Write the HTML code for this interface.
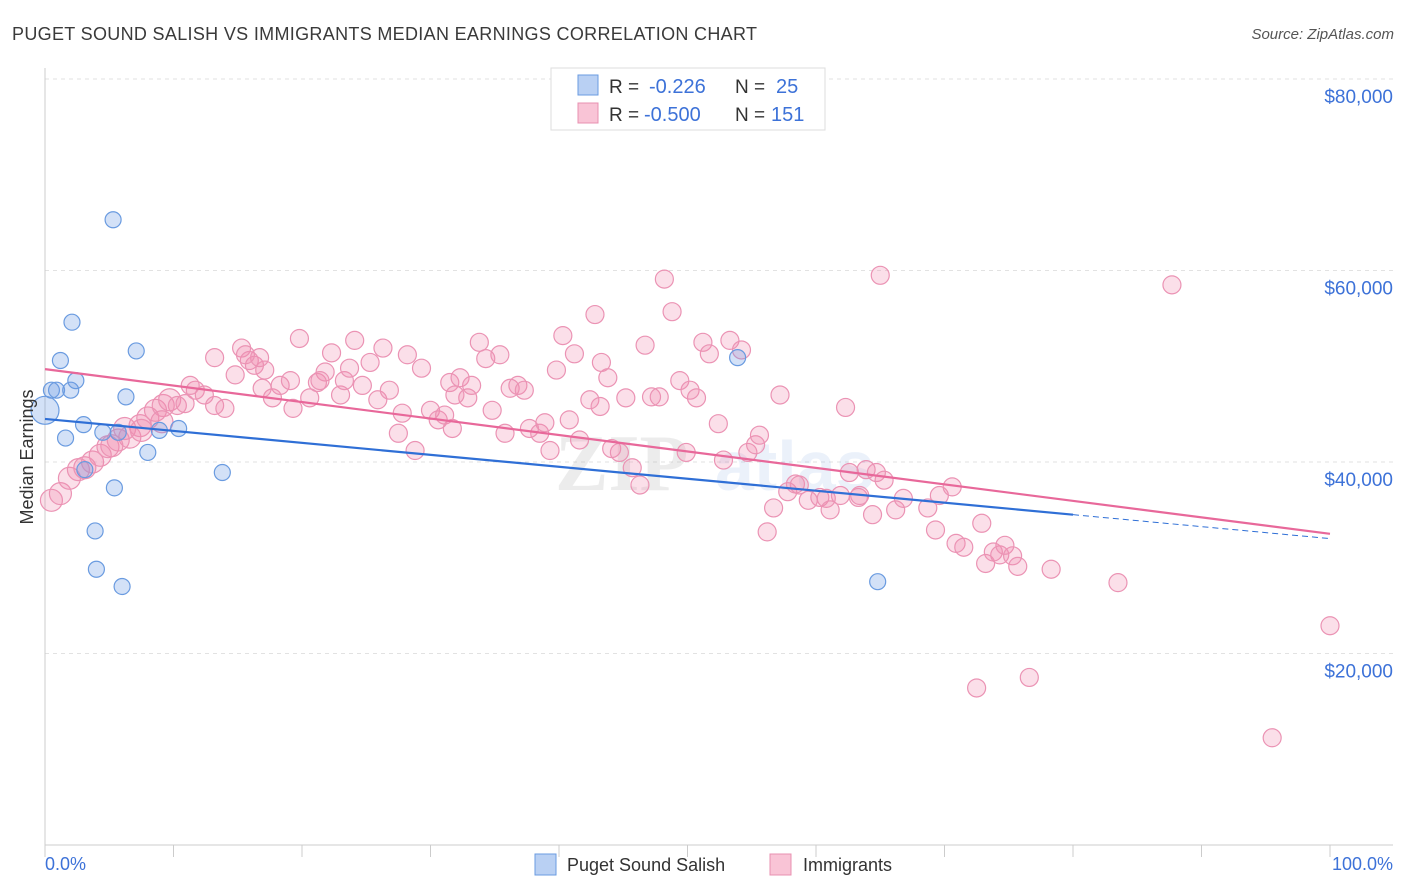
<!DOCTYPE html>
<html><head><meta charset="utf-8">
<style>
body{margin:0;background:#fff;font-family:"Liberation Sans",sans-serif;}
svg{display:block}
</style></head>
<body>
<svg id="chart" width="1406" height="892" xmlns="http://www.w3.org/2000/svg">
<text x="12" y="40" font-size="18" fill="#3a3a3a" textLength="745" lengthAdjust="spacing">PUGET SOUND SALISH VS IMMIGRANTS MEDIAN EARNINGS CORRELATION CHART</text>
<text x="1394" y="39" font-size="15" fill="#555" text-anchor="end" font-style="italic">Source: ZipAtlas.com</text>
<g id="grid"></g>
<g opacity="0.13"><text x="555" y="490" font-size="80" font-family="Liberation Serif" fill="#777" font-weight="bold">ZIP</text><text x="715" y="490" font-size="70" fill="#6a9be0" font-weight="bold">atlas</text></g>
<g id="pts"></g>
<g id="lines"></g>
<text transform="translate(33,457) rotate(-90)" font-size="18" fill="#333" text-anchor="middle">Median Earnings</text>
<text x="45" y="870" font-size="18" fill="#3d72d8">0.0%</text>
<text x="1393" y="870" font-size="18" fill="#3d72d8" text-anchor="end">100.0%</text>
<g>
<rect x="551" y="68" width="274" height="62" fill="#fff" stroke="#ddd"/>
<rect x="578" y="75" width="20" height="20" fill="#b9d0f3" stroke="#6a9be0"/>
<rect x="578" y="103" width="20" height="20" fill="#f9c4d6" stroke="#e890b0"/>
<text x="609" y="93" font-size="19" fill="#333">R =</text>
<text x="649" y="93" font-size="20" fill="#3d72d8">-0.226</text>
<text x="735" y="93" font-size="19" fill="#333">N =</text>
<text x="776" y="93" font-size="20" fill="#3d72d8">25</text>
<text x="609" y="121" font-size="19" fill="#333">R =</text>
<text x="644" y="121" font-size="20" fill="#3d72d8">-0.500</text>
<text x="735" y="121" font-size="19" fill="#333">N =</text>
<text x="771" y="121" font-size="20" fill="#3d72d8">151</text>
</g>
<g>
<rect x="535" y="854" width="21" height="21" fill="#b9d0f3" stroke="#6a9be0"/>
<text x="567" y="871" font-size="18" fill="#333">Puget Sound Salish</text>
<rect x="770" y="854" width="21" height="21" fill="#f9c4d6" stroke="#e890b0"/>
<text x="803" y="871" font-size="18" fill="#333">Immigrants</text>
</g>
</svg>
<script>
const yTicks=[20000,40000,60000,80000];
const yTickLabels=["$20,000","$40,000","$60,000","$80,000"];
const xTicks=[0,10,20,30,40,50,60,70,80,90,100];
const blueX=[0,0.5,0.9,1.2,2.1,1.6,2.0,2.4,3.0,3.1,3.9,4.0,4.5,5.3,5.4,6.0,6.3,7.1,8.0,8.9,10.4,13.8,53.9,64.8,5.7];
const blueY=[45.4,47.5,47.5,50.6,54.6,42.5,47.5,48.5,43.9,39.2,32.8,28.8,43.1,65.3,37.3,27.0,46.8,51.6,41.0,43.3,43.5,38.9,50.9,27.5,43.1];
const pinkX=[0.5,1.2,1.9,2.6,3.1,3.7,4.3,4.9,5.7,6.2,6.6,7.4,8.0,8.6,9.2,9.7,10.3,10.9,11.7,12.4,13.2,14.0,13.2,14.8,15.3,15.9,16.3,17.1,17.7,16.9,18.3,19.1,19.3,19.8,20.6,21.2,21.8,22.3,23.0,23.3,23.7,24.1,24.7,25.3,25.9,26.3,26.8,27.5,27.8,28.2,28.8,29.3,30.0,30.6,31.1,31.7,31.5,32.3,32.9,33.2,33.8,34.3,34.8,35.4,35.8,36.2,36.8,37.3,37.7,38.5,38.9,39.3,39.8,40.3,40.8,41.2,41.6,42.4,42.8,43.3,43.8,44.1,44.7,45.2,45.7,46.3,46.7,47.2,47.8,48.2,48.8,49.4,49.9,50.2,50.7,51.2,51.7,52.4,52.8,53.3,54.2,54.7,55.3,55.6,56.7,57.2,57.8,58.4,58.7,59.4,60.3,60.8,61.1,61.9,62.3,62.6,63.3,63.9,64.4,65.0,65.3,66.2,66.8,68.7,69.3,69.6,70.6,70.9,71.5,72.9,73.2,73.8,74.3,74.7,75.3,75.7,78.3,83.5,87.7,100.0,95.5,72.5,76.6,56.2,64.7,63.4,43.2,31.9,21.4,11.3,9.1,7.5,5.2,16.7,15.6];
const pinkY=[36.0,36.7,38.3,39.2,39.4,40.0,40.7,41.6,42.3,43.5,42.6,43.8,44.6,45.4,45.9,46.5,45.9,46.1,47.5,47.0,45.9,45.6,50.9,49.1,51.9,50.6,50.1,49.6,46.7,47.7,48.0,48.5,45.6,52.9,46.7,48.3,49.4,51.4,47.0,48.5,49.8,52.7,48.0,50.4,46.5,51.9,47.5,43.0,45.1,51.2,41.2,49.8,45.4,44.4,44.9,43.5,48.3,48.8,46.7,48.0,52.5,50.8,45.4,51.2,43.0,47.7,48.0,47.5,43.5,43.0,44.1,41.2,49.6,53.2,44.4,51.3,42.3,46.5,55.4,50.4,48.8,41.4,41.0,46.7,39.4,37.6,52.2,46.8,46.8,59.1,55.7,48.5,41.0,47.5,46.7,52.5,51.3,44.0,40.2,52.7,51.7,41.0,41.8,42.8,35.2,47.0,36.9,37.7,37.6,36.0,36.3,36.2,35.0,36.5,45.7,38.9,36.3,39.2,34.5,59.5,38.1,35.0,36.2,35.2,32.9,36.5,37.4,31.5,31.1,33.6,29.4,30.6,30.3,31.3,30.2,29.1,28.8,27.4,58.5,22.9,11.2,16.4,17.5,32.7,38.9,36.5,45.8,47.0,48.5,48.0,44.2,43.3,41.7,50.9,51.2];
const blueTrendX=[0,80,100];
const blueTrendY=[44.5,34.5,32.0];
const pinkTrendX=[0,100];
const pinkTrendY=[49.7,32.5];
const NS="http://www.w3.org/2000/svg";
const X=v=>45+v*12.85;
const Y=v=>845-v/1000*9.575;
function mk(t,a,p){const e=document.createElementNS(NS,t);for(const k in a)e.setAttribute(k,a[k]);p.appendChild(e);return e;}
const grid=document.getElementById('grid');
yTicks.forEach((t,i)=>{
 const l=mk('line',{x1:45,x2:1393,y1:Y(t),y2:Y(t),stroke:'#e2e2e2','stroke-dasharray':'4,4'},grid);
 
 
 const tx=mk('text',{x:1393,y:Y(t)+24,'font-size':19,fill:'#3d72d8','text-anchor':'end'},grid);
 tx.textContent=yTickLabels[i];
 
 
});
const ax=mk('line',{x1:45,x2:1393,y1:845,y2:845,stroke:'#ccc'},grid);


const ay=mk('line',{x1:45,x2:45,y1:68,y2:845,stroke:'#ccc'},grid);


xTicks.forEach(t=>{
 const l=mk('line',{x1:X(t),x2:X(t),y1:845,y2:857,stroke:'#ccc'},grid);
 
 
});
const pts=document.getElementById('pts');
pinkX.forEach((x,i)=>{
 const c=mk('circle',{cx:X(x),cy:Y(pinkY[i]*1000),r:x<10?11:9,fill:'rgba(242,140,176,0.28)',stroke:'#eb93b4','stroke-width':1.2},pts);
 
 
});
blueX.forEach((x,i)=>{
 const c=mk('circle',{cx:X(x),cy:Y(blueY[i]*1000),r:i==0?14:8,fill:'rgba(110,155,230,0.3)',stroke:'#6a9be0','stroke-width':1.2},pts);
 
 
});
const lines=document.getElementById('lines');
const b1=mk('line',{x1:X(blueTrendX[0]),y1:Y(blueTrendY[0]*1000),x2:X(blueTrendX[1]),y2:Y(blueTrendY[1]*1000),stroke:'#2f6fd6','stroke-width':2.2},lines);


const b2=mk('line',{x1:X(blueTrendX[1]),y1:Y(blueTrendY[1]*1000),x2:X(blueTrendX[2]),y2:Y(blueTrendY[2]*1000),stroke:'#2f6fd6','stroke-width':1,'stroke-dasharray':'6,4'},lines);


const p1=mk('line',{x1:X(pinkTrendX[0]),y1:Y(pinkTrendY[0]*1000),x2:X(pinkTrendX[1]),y2:Y(pinkTrendY[1]*1000),stroke:'#e8689a','stroke-width':2.2},lines);


</script>
</body></html>
